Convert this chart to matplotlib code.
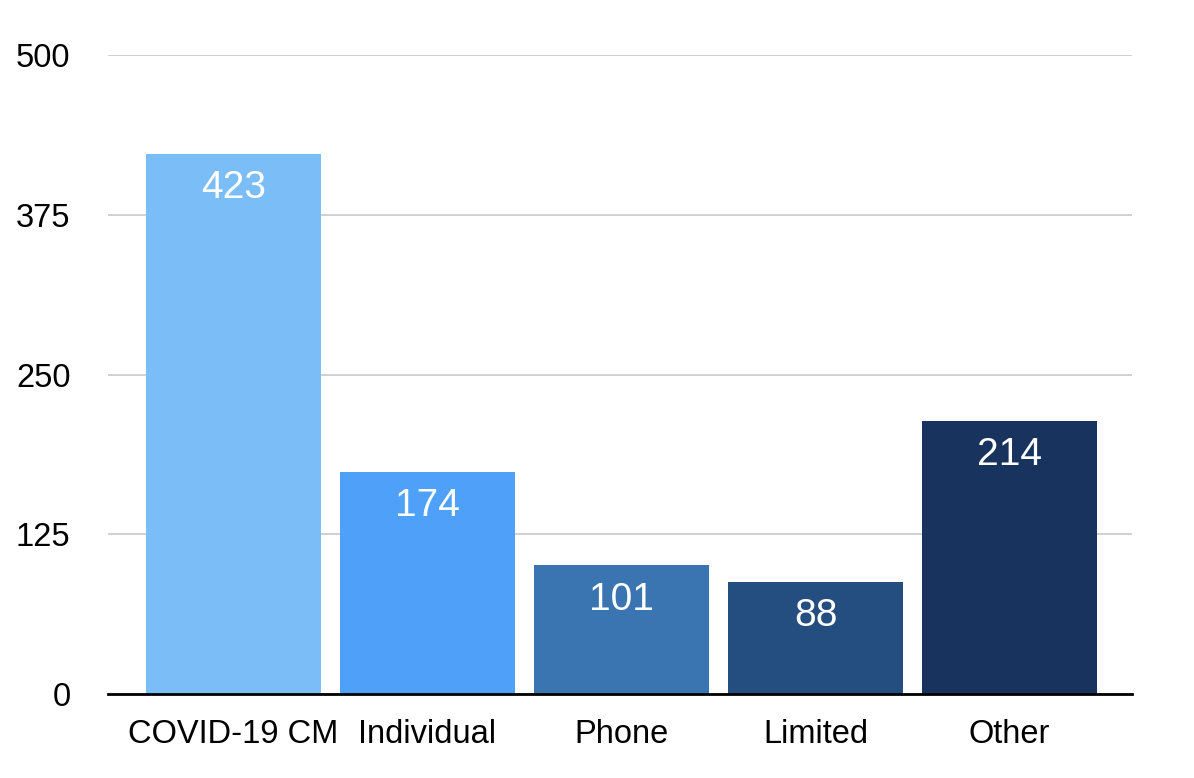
import matplotlib
matplotlib.use('Agg')
import matplotlib.pyplot as plt

categories = ['COVID-19 CM', 'Individual', 'Phone', 'Limited', 'Other']
counts = [423, 174, 101, 88, 214]
bar_colors = ['#7bbdf7', '#4fa0f8', '#3a75b1', '#244e80', '#17335e']
yticks = [0, 125, 250, 375, 500]

plt.rcParams['font.family'] = ['Liberation Sans', 'DejaVu Sans']

fig = plt.figure(figsize=(11.94, 7.78), dpi=100)
ax = fig.add_axes([0.0905, 0.108, 0.8575, 0.821])

x = range(len(categories))
bars = ax.bar(x, counts, width=0.9, color=bar_colors, zorder=3)

for rect, val in zip(bars, counts):
    ax.annotate(str(val), xy=(rect.get_x() + rect.get_width() / 2, val),
                xytext=(0, -12), textcoords='offset points',
                ha='center', va='top', color='white', fontsize=28, zorder=4)

ax.set_xlim(-0.645, 4.63)
ax.set_ylim(0, 500)
ax.set_yticks(yticks)
ax.set_yticklabels([str(t) for t in yticks], fontsize=23.5)
ax.set_xticks(list(x))
ax.set_xticklabels(categories, fontsize=23.5)
ax.tick_params(axis='y', length=0, pad=27)
ax.tick_params(axis='x', length=0, pad=18)

ax.grid(axis='y', color='#c8c8c8', linewidth=1.2, zorder=0)
for side in ['top', 'right', 'left']:
    ax.spines[side].set_visible(False)
ax.spines['bottom'].set_linewidth(2)
ax.spines['bottom'].set_color('black')
ax.spines['bottom'].set_zorder(5)

fig.savefig('out.png', dpi=100, facecolor='white')
